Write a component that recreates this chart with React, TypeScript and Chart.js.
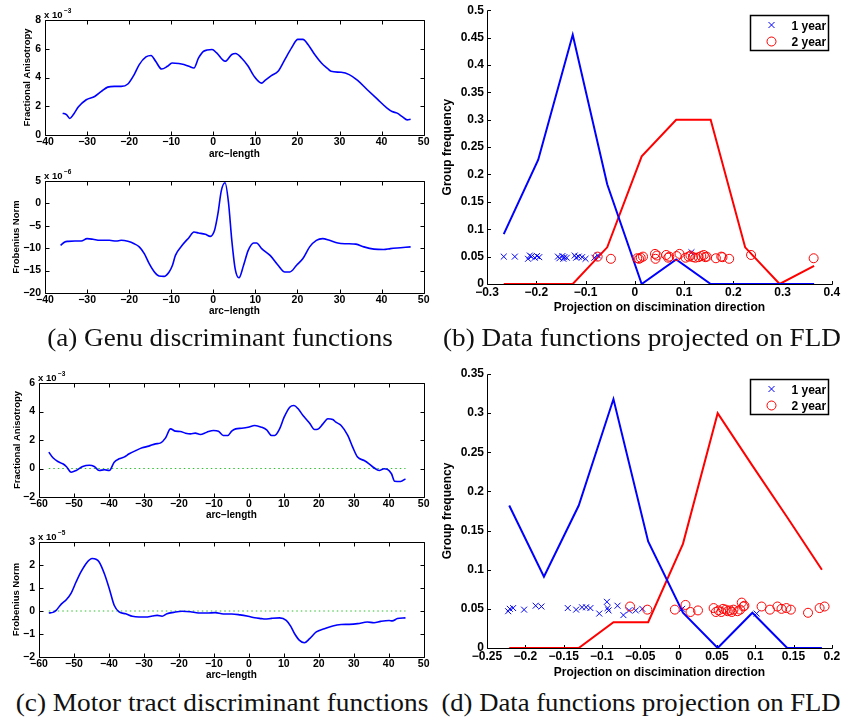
import React, { useEffect, useLayoutEffect, useRef } from 'react';
import { Chart, registerables } from 'chart.js';

Chart.register(...registerables);

// ---------- (a) Genu discriminant functions ----------
const genuFaArc = [-35.8, -34.9, -34.1, -33.2, -32.1, -30.2, -28.2, -26.6, -25.1, -23.5, -21.9, -20.3, -18.8, -17.6, -16.0, -14.8, -13.7, -12.3, -10.9, -9.8, -8.2, -7.0, -5.8, -4.6, -3.5, -2.3, -0.3, 0.8, 2.8, 4.4, 5.3, 6.7, 8.3, 9.6, 11.5, 12.3, 13.8, 15.4, 17.0, 18.6, 20.1, 21.3, 22.5, 24.1, 25.7, 27.2, 28.0, 30.4, 32.3, 34.3, 36.6, 39.0, 41.3, 42.5, 43.7, 44.9, 46.1, 46.9];
const genuFaVal = [1.52, 1.42, 1.15, 1.45, 1.94, 2.45, 2.68, 3.03, 3.33, 3.38, 3.38, 3.55, 4.20, 4.90, 5.43, 5.53, 5.13, 4.59, 4.78, 5.01, 4.97, 4.90, 4.78, 4.66, 5.36, 5.83, 5.95, 5.71, 5.13, 5.60, 5.67, 5.36, 4.78, 4.13, 3.61, 3.80, 4.13, 4.43, 5.25, 6.06, 6.65, 6.65, 6.30, 5.60, 5.01, 4.62, 4.43, 4.36, 4.20, 3.80, 3.15, 2.49, 1.87, 1.63, 1.52, 1.28, 1.05, 1.10];

const genuFnArc = [-36.3, -35.3, -34.5, -32.9, -31.4, -30.0, -28.6, -27.0, -24.7, -23.1, -21.9, -20.3, -18.8, -17.6, -16.4, -15.2, -14.0, -12.9, -11.7, -10.5, -9.7, -9.0, -7.4, -5.8, -4.6, -3.5, -1.9, -0.7, 0.3, 1.1, 1.9, 2.8, 3.6, 4.4, 5.2, 6.1, 7.2, 8.3, 9.6, 10.3, 11.5, 13.5, 15.4, 17.0, 18.2, 19.8, 21.3, 22.9, 24.5, 26.0, 27.6, 29.6, 31.5, 33.9, 35.8, 38.2, 40.5, 42.1, 44.5, 46.9];
const genuFnVal = [-9.36, -8.6, -8.47, -8.4, -8.4, -7.87, -8.0, -8.24, -8.24, -8.4, -8.24, -8.47, -9.0, -9.7, -11.2, -13.5, -15.3, -16.2, -16.3, -15.3, -13.8, -11.6, -9.36, -7.65, -6.4, -6.6, -6.9, -7.35, -6.0, -2.3, 2.8, 4.6, 0.3, -8.24, -14.6, -16.6, -13.8, -10.5, -8.84, -8.84, -10.1, -11.6, -13.8, -15.3, -15.3, -13.8, -12.3, -9.7, -8.24, -7.87, -8.24, -8.84, -9.0, -9.1, -9.7, -10.2, -10.3, -10.1, -9.9, -9.7];

// ---------- (b) Genu projections ----------
const bBins = [-0.266, -0.196, -0.126, -0.056, 0.014, 0.084, 0.154, 0.224, 0.294, 0.364];
const bFreq1 = [0.091, 0.227, 0.455, 0.182, 0, 0.045, 0, 0, 0, 0];
const bFreq2 = [0, 0, 0, 0.067, 0.233, 0.3, 0.3, 0.067, 0, 0.033];
const bProj1 = [-0.266, -0.2435, -0.2167, -0.213, -0.21, -0.203, -0.1985, -0.194, -0.156, -0.153, -0.147, -0.145, -0.143, -0.138, -0.122, -0.119, -0.114, -0.107, -0.1, -0.082, -0.075, 0.115];
const bJit1 = [0.05, 0.05, 0.046, 0.052, 0.05, 0.048, 0.051, 0.049, 0.05, 0.047, 0.051, 0.046, 0.049, 0.048, 0.052, 0.048, 0.05, 0.049, 0.046, 0.048, 0.052, 0.058];
const bProj2 = [-0.0754, -0.0485, 0.005, 0.0087, 0.012, 0.0167, 0.041, 0.042, 0.045, 0.0637, 0.0678, 0.07, 0.085, 0.0907, 0.103, 0.1095, 0.113, 0.118, 0.123, 0.1297, 0.135, 0.14, 0.143, 0.146, 0.1646, 0.1755, 0.178, 0.1916, 0.236, 0.363];
const bJit2 = [0.05, 0.046, 0.047, 0.046, 0.048, 0.05, 0.055, 0.046, 0.052, 0.053, 0.048, 0.05, 0.051, 0.055, 0.048, 0.05, 0.052, 0.049, 0.048, 0.049, 0.051, 0.053, 0.049, 0.05, 0.047, 0.05, 0.049, 0.046, 0.053, 0.047];

// ---------- (c) Motor tract discriminant functions ----------
const motorFaArc = [-57.2, -56.0, -54.6, -53.2, -52.2, -50.8, -49.4, -47.5, -45.6, -44.2, -42.8, -41.3, -39.9, -38.5, -37.1, -35.7, -34.2, -32.3, -30.5, -28.6, -26.7, -25.2, -23.8, -22.4, -21.0, -19.6, -18.1, -16.7, -15.3, -13.9, -12.0, -10.1, -8.7, -7.3, -6.0, -4.9, -3.75, -2.0, -0.2, 1.7, 3.6, 5.1, 6.5, 7.4, 8.8, 10.1, 11.7, 12.9, 14.1, 15.5, 17.4, 18.8, 19.7, 21.2, 22.6, 24.0, 24.9, 26.4, 28.3, 29.7, 31.1, 33.0, 34.4, 35.8, 37.3, 38.7, 39.6, 40.8, 41.7, 43.4, 44.8];
const motorFaVal = [1.15, 0.75, 0.49, 0.33, 0.14, -0.26, -0.14, 0.14, 0.23, 0.14, -0.14, -0.09, -0.14, 0.44, 0.68, 0.8, 1.03, 1.26, 1.45, 1.57, 1.73, 1.8, 2.15, 2.78, 2.62, 2.6, 2.48, 2.43, 2.48, 2.39, 2.55, 2.67, 2.62, 2.32, 2.32, 2.62, 2.78, 2.83, 2.9, 3.02, 2.9, 2.71, 2.32, 2.32, 2.78, 3.6, 4.3, 4.42, 4.19, 3.72, 3.18, 2.74, 2.76, 3.13, 3.49, 3.44, 3.25, 3.02, 2.32, 1.5, 0.8, 0.56, 0.33, 0.05, -0.14, -0.02, -0.05, -0.37, -0.89, -0.91, -0.73];

const motorFnArc = [-57.2, -56.0, -55.1, -53.7, -52.2, -50.8, -49.4, -48.0, -46.4, -44.8, -43.7, -42.8, -41.3, -39.9, -38.5, -37.1, -35.2, -33.3, -31.4, -29.5, -27.6, -26.2, -24.8, -23.4, -21.5, -19.1, -16.7, -14.4, -12.0, -9.6, -7.3, -4.9, -2.5, -0.2, 1.7, 3.6, 4.6, 6.5, 8.8, 10.7, 12.0, 13.1, 14.5, 15.9, 17.4, 19.3, 21.6, 24.0, 26.4, 28.7, 31.1, 33.9, 35.8, 37.7, 40.1, 41.0, 42.5, 44.8];
const motorFnVal = [-0.09, -0.06, 0.03, 0.29, 0.49, 0.78, 1.26, 1.7, 2.09, 2.28, 2.25, 2.13, 1.62, 0.97, 0.25, -0.04, -0.12, -0.23, -0.26, -0.26, -0.22, -0.19, -0.23, -0.12, -0.06, -0.01, -0.03, -0.09, -0.09, -0.07, -0.13, -0.13, -0.17, -0.23, -0.29, -0.33, -0.35, -0.32, -0.3, -0.41, -0.67, -0.99, -1.28, -1.38, -1.2, -0.91, -0.77, -0.65, -0.59, -0.58, -0.55, -0.48, -0.51, -0.45, -0.41, -0.43, -0.33, -0.3];
const motorZeroArc = [-57.2, 44.8];
const motorZeroVal = [0, 0];

// ---------- (d) Motor projections ----------
const dBins = [-0.221, -0.1757, -0.1303, -0.085, -0.0397, 0.0057, 0.051, 0.0963, 0.1417, 0.187];
const dFreq1 = [0.182, 0.091, 0.182, 0.318, 0.136, 0.045, 0, 0.045, 0, 0];
const dFreq2 = [0, 0, 0, 0.033, 0.033, 0.133, 0.3, 0.233, 0.167, 0.1];
const dProj1 = [-0.2224, -0.2202, -0.2159, -0.2016, -0.1865, -0.179, -0.1446, -0.1337, -0.126, -0.1207, -0.1151, -0.1035, -0.0935, -0.0926, -0.0914, -0.0797, -0.072, -0.0646, -0.0559, -0.0473, 0.0046, 0.1018];
const dJit1 = [0.047, 0.05, 0.051, 0.049, 0.054, 0.053, 0.051, 0.049, 0.052, 0.052, 0.051, 0.044, 0.059, 0.051, 0.048, 0.054, 0.042, 0.048, 0.048, 0.05, 0.05, 0.044];
const dProj2 = [-0.0633, -0.0408, -0.0049, 0.009, 0.0155, 0.0253, 0.0457, 0.0487, 0.0522, 0.0557, 0.058, 0.0617, 0.064, 0.0673, 0.0694, 0.0716, 0.077, 0.0803, 0.0824, 0.0846, 0.0859, 0.1083, 0.1192, 0.129, 0.1343, 0.1407, 0.1465, 0.1689, 0.184, 0.1905];
const dJit2 = [0.053, 0.049, 0.049, 0.055, 0.046, 0.048, 0.051, 0.046, 0.048, 0.046, 0.05, 0.049, 0.047, 0.048, 0.046, 0.049, 0.047, 0.049, 0.058, 0.053, 0.054, 0.053, 0.049, 0.053, 0.05, 0.051, 0.049, 0.045, 0.051, 0.053];

const legendLabels = ['1 year', '2 year'];

// ---------- styling helpers ----------
const SANS = '"Liberation Sans", Arial, Helvetica, sans-serif';
const SERIF = '"Liberation Serif", "Times New Roman", serif';
const BLUE = '#0000ff';
const RED = '#ff0000';
const GREEN = '#2fbf2f';

const fmt = (v: number) => String(Math.round(v * 1000) / 1000).replace('-', '\u2212');
const pts = (xs: number[], ys: number[]) => xs.map((x, i) => ({ x, y: ys[i] }));
const hp = (v: number) => Math.round(v) + 0.5;

const matlabPlugin = {
  id: 'matlab',
  beforeDatasetsDraw(chart: any, _args: any, opts: any) {
    const { ctx, chartArea: a } = chart;
    const xs = chart.scales.x;
    const ys = chart.scales.y;
    const tl = opts.tickLen ?? 4;
    const l = hp(a.left), r = hp(a.right), t = hp(a.top), b = hp(a.bottom);
    ctx.save();
    ctx.strokeStyle = '#000';
    ctx.lineWidth = 1;
    ctx.beginPath();
    if (opts.box) {
      ctx.rect(l, t, r - l, b - t);
    } else {
      ctx.moveTo(l, t);
      ctx.lineTo(l, b);
      ctx.lineTo(r, b);
    }
    for (const tk of xs.ticks) {
      const p = hp(xs.getPixelForValue(tk.value));
      ctx.moveTo(p, b);
      ctx.lineTo(p, b - tl);
      if (opts.box) {
        ctx.moveTo(p, t);
        ctx.lineTo(p, t + tl);
      }
    }
    for (const tk of ys.ticks) {
      const p = hp(ys.getPixelForValue(tk.value));
      ctx.moveTo(l, p);
      ctx.lineTo(l + tl, p);
      if (opts.box) {
        ctx.moveTo(r, p);
        ctx.lineTo(r - tl, p);
      }
    }
    ctx.stroke();
    ctx.restore();
  },
  afterDraw(chart: any, _args: any, opts: any) {
    const { ctx, chartArea: a } = chart;
    ctx.save();
    if (opts.exponent) {
      ctx.fillStyle = '#000';
      ctx.textAlign = 'left';
      ctx.textBaseline = 'alphabetic';
      ctx.font = `bold 9.5px ${SANS}`;
      const base = 'x 10';
      ctx.fillText(base, a.left - 1, a.top - 2);
      const w = ctx.measureText(base).width;
      ctx.font = `bold 6.5px ${SANS}`;
      ctx.fillText(opts.exponent, a.left + w + 0.5, a.top - 7);
    }

    if (opts.legend) {
      const bw = 78, bh = 35;
      const bx = Math.round(a.right - 4 - bw) + 0.5;
      const by = Math.round(a.top + 5) + 0.5;
      ctx.fillStyle = '#fff';
      ctx.fillRect(bx, by, bw, bh);
      ctx.lineWidth = 1.5;
      ctx.strokeStyle = '#000';
      ctx.strokeRect(bx, by, bw, bh);
      opts.legend.forEach((it: any, i: number) => {
        const cy = by + 9.5 + i * 16.5;
        const cx = bx + 21;
        ctx.lineWidth = 1;
        ctx.strokeStyle = it.color;
        ctx.beginPath();
        if (it.style === 'cross') {
          ctx.moveTo(cx - 3, cy - 3);
          ctx.lineTo(cx + 3, cy + 3);
          ctx.moveTo(cx + 3, cy - 3);
          ctx.lineTo(cx - 3, cy + 3);
        } else {
          ctx.arc(cx, cy, 4.5, 0, Math.PI * 2);
        }
        ctx.stroke();
        ctx.fillStyle = '#000';
        ctx.font = `bold 12px ${SANS}`;
        ctx.textAlign = 'left';
        ctx.textBaseline = 'middle';
        ctx.fillText(it.label, bx + 41, cy + 1.5);
      });
    }
    ctx.restore();
  },
};

type Frame = { x0: number; y0: number; w: number; h: number };
type Box = { L: number; T: number; W: number; H: number };
type Spec = {
  frame: Frame;
  box: Box;
  xMin: number; xMax: number; xStep: number; xTitle: string; xTitleY: number;
  yMin: number; yMax: number; yStep: number; yTitle: string; yTitleX: number;
  tickSize: number; xTitleSize: number; yTitleSize: number;
  tickPadX: number; tickPadY: number;
  datasets: any[];
  matlab: any;
};

function buildConfig(s: Spec): any {
  const padTop = s.box.T - s.frame.y0;
  const padRight = s.frame.x0 + s.frame.w - (s.box.L + s.box.W);
  const yW = s.box.L - s.frame.x0;
  const xH = s.frame.y0 + s.frame.h - (s.box.T + s.box.H);
  const xlh = s.xTitleSize * 1.2;
  const ylh = s.yTitleSize * 1.2;
  const xTitlePad = s.frame.y0 + s.frame.h - xlh / 2 - s.xTitleY;
  const yTitlePad = s.yTitleX - s.frame.x0 - ylh / 2;
  const tickFont = { family: SANS, size: s.tickSize, weight: 'bold', lineHeight: 1.2 };
  return {
    type: 'scatter',
    data: { datasets: s.datasets },
    options: {
      responsive: false,
      animation: false,
      devicePixelRatio: 1,
      events: [],
      layout: { padding: { top: padTop, right: padRight, left: 0, bottom: 0 }, autoPadding: false },
      plugins: { legend: { display: false }, tooltip: { enabled: false }, matlab: s.matlab },
      scales: {
        x: {
          type: 'linear',
          position: 'bottom',
          min: s.xMin,
          max: s.xMax,
          afterFit: (sc: any) => { sc.height = xH; },
          grid: { display: false, drawTicks: false },
          border: { display: false },
          ticks: {
            stepSize: s.xStep, autoSkip: false, maxRotation: 0, minRotation: 0,
            padding: s.tickPadX, color: '#000', font: tickFont,
            callback: (v: any) => fmt(Number(v)),
          },
          title: {
            display: true, text: s.xTitle, color: '#000',
            font: { family: SANS, size: s.xTitleSize, weight: 'bold', lineHeight: 1.2 },
            padding: { top: 0, bottom: xTitlePad },
          },
        },
        y: {
          type: 'linear',
          position: 'left',
          min: s.yMin,
          max: s.yMax,
          afterFit: (sc: any) => { sc.width = yW; },
          grid: { display: false, drawTicks: false },
          border: { display: false },
          ticks: {
            stepSize: s.yStep, autoSkip: false,
            padding: s.tickPadY, color: '#000', font: tickFont,
            callback: (v: any) => fmt(Number(v)),
          },
          title: {
            display: true, text: s.yTitle, color: '#000',
            font: { family: SANS, size: s.yTitleSize, weight: 'bold', lineHeight: 1.2 },
            padding: { top: yTitlePad, bottom: 0 },
          },
        },
      },
    },
    plugins: [matlabPlugin],
  };
}

const curve = (xs: number[], ys: number[], color: string, width = 1.6) => ({
  data: pts(xs, ys), showLine: true, borderColor: color, borderWidth: width,
  pointRadius: 0, cubicInterpolationMode: 'monotone', fill: false,
});
const poly = (xs: number[], ys: number[], color: string) => ({
  data: pts(xs, ys), showLine: true, borderColor: color, borderWidth: 2,
  pointRadius: 0, tension: 0, fill: false,
});
const crosses = (xs: number[], ys: number[]) => ({
  data: pts(xs, ys), showLine: false, pointStyle: 'crossRot', pointRadius: 4.2,
  borderColor: BLUE, backgroundColor: BLUE, pointBorderWidth: 1, borderWidth: 1,
});
const circles = (xs: number[], ys: number[]) => ({
  data: pts(xs, ys), showLine: false, pointStyle: 'circle', pointRadius: 4.5,
  borderColor: RED, backgroundColor: 'rgba(0,0,0,0)', pointBorderWidth: 1, borderWidth: 1,
});
const zeroLine = (xs: number[], ys: number[]) => ({
  data: pts(xs, ys), showLine: true, borderColor: GREEN, borderWidth: 1,
  borderDash: [1.5, 3], pointRadius: 0, fill: false,
});

const legendItems = [
  { label: legendLabels[0], color: BLUE, style: 'cross' },
  { label: legendLabels[1], color: RED, style: 'circle' },
];

const leftText = { tickSize: 10.5, xTitleSize: 10, yTitleSize: 9.5, tickPadX: 0.5, tickPadY: 4 };
const rightText = { tickSize: 12, xTitleSize: 12, yTitleSize: 12, tickPadX: 1.8, tickPadY: 3 };

const specs: Spec[] = [
  {
    frame: { x0: 0, y0: 0, w: 430, h: 165 }, box: { L: 45, T: 20, W: 382, H: 115 },
    xMin: -40, xMax: 50, xStep: 10, xTitle: 'arc\u2212length', xTitleY: 154,
    yMin: 0, yMax: 8, yStep: 2, yTitle: 'Fractional Anisotropy', yTitleX: 27,
    ...leftText,
    datasets: [curve(genuFaArc, genuFaVal, BLUE)],
    matlab: { box: true, tickLen: 4, exponent: '\u22123' },
  },
  {
    frame: { x0: 0, y0: 165, w: 430, h: 160 }, box: { L: 45, T: 181, W: 382, H: 112 },
    xMin: -40, xMax: 50, xStep: 10, xTitle: 'arc\u2212length', xTitleY: 311,
    yMin: -20, yMax: 5, yStep: 5, yTitle: 'Frobenius Norm', yTitleX: 16,
    ...leftText,
    datasets: [curve(genuFnArc, genuFnVal, BLUE)],
    matlab: { box: true, tickLen: 4, exponent: '\u22126' },
  },
  {
    frame: { x0: 430, y0: 0, w: 412, h: 320 }, box: { L: 487, T: 10, W: 347, H: 274 },
    xMin: -0.3, xMax: 0.4, xStep: 0.1, xTitle: 'Projection on discimination direction', xTitleY: 308,
    yMin: 0, yMax: 0.5, yStep: 0.05, yTitle: 'Group frequency', yTitleX: 448,
    ...rightText,
    datasets: [
      circles(bProj2, bJit2),
      crosses(bProj1, bJit1),
      poly(bBins, bFreq1, BLUE),
      poly(bBins, bFreq2, RED),
    ],
    matlab: { box: false, tickLen: 3.5, legend: legendItems },
  },
  {
    frame: { x0: 0, y0: 365, w: 430, h: 160 }, box: { L: 39, T: 383, W: 388, H: 114 },
    xMin: -60, xMax: 50, xStep: 10, xTitle: 'arc\u2212length', xTitleY: 515,
    yMin: -2, yMax: 6, yStep: 2, yTitle: 'Fractional Anisotropy', yTitleX: 17,
    ...leftText,
    datasets: [curve(motorFaArc, motorFaVal, BLUE), zeroLine(motorZeroArc, motorZeroVal)],
    matlab: { box: true, tickLen: 4, exponent: '\u22123' },
  },
  {
    frame: { x0: 0, y0: 525, w: 430, h: 155 }, box: { L: 39, T: 542, W: 388, H: 115 },
    xMin: -60, xMax: 50, xStep: 10, xTitle: 'arc\u2212length', xTitleY: 675.5,
    yMin: -2, yMax: 3, yStep: 1, yTitle: 'Frobenius Norm', yTitleX: 16,
    ...leftText,
    datasets: [curve(motorFnArc, motorFnVal, BLUE), zeroLine(motorZeroArc, motorZeroVal)],
    matlab: { box: true, tickLen: 4, exponent: '\u22125' },
  },
  {
    frame: { x0: 430, y0: 360, w: 412, h: 320 }, box: { L: 487, T: 374, W: 347, H: 274 },
    xMin: -0.25, xMax: 0.2, xStep: 0.05, xTitle: 'Projection on discimination direction', xTitleY: 673,
    yMin: 0, yMax: 0.35, yStep: 0.05, yTitle: 'Group frequency', yTitleX: 448,
    ...rightText,
    datasets: [
      circles(dProj2, dJit2),
      crosses(dProj1, dJit1),
      poly(dBins, dFreq1, BLUE),
      poly(dBins, dFreq2, RED),
    ],
    matlab: { box: false, tickLen: 3.5, legend: legendItems },
  },
];

const captions = [
  { text: '(a) Genu discriminant functions', cx: 220, cy: 337, width: 346 },
  { text: '(b) Data functions projected on FLD', cx: 642, cy: 337, width: 398 },
  { text: '(c) Motor tract discriminant functions', cx: 221.5, cy: 702, width: 413 },
  { text: '(d) Data functions projection on FLD', cx: 640.5, cy: 702, width: 399 },
];

function Plot({ spec }: { spec: Spec }) {
  const ref = useRef<HTMLCanvasElement>(null);
  useEffect(() => {
    const chart = new Chart(ref.current as HTMLCanvasElement, buildConfig(spec));
    return () => chart.destroy();
  }, [spec]);
  const f = spec.frame;
  return (
    <div style={{ position: 'absolute', left: f.x0, top: f.y0, width: f.w, height: f.h }}>
      <canvas ref={ref} width={f.w} height={f.h} style={{ width: f.w, height: f.h, display: 'block' }} />
    </div>
  );
}

function Caption({ text, cx, cy, width }: { text: string; cx: number; cy: number; width: number }) {
  const ref = useRef<HTMLDivElement>(null);
  useLayoutEffect(() => {
    const el = ref.current;
    if (!el) return;
    const w = el.offsetWidth;
    const s = w > 0 ? width / w : 1;
    el.style.transform = `translate(-50%, -50%) scaleX(${s})`;
  }, [width]);
  return (
    <div
      ref={ref}
      style={{
        position: 'absolute', left: cx, top: cy, whiteSpace: 'nowrap',
        fontFamily: SERIF, fontSize: 25, lineHeight: '25px', color: '#111',
        transform: 'translate(-50%, -50%)',
      }}
    >
      {text}
    </div>
  );
}

export default function App() {
  return (
    <div style={{ position: 'fixed', left: 0, top: 0, width: 842, height: 719, background: '#fff', overflow: 'hidden' }}>
      {specs.map((s, i) => <Plot key={i} spec={s} />)}
      {captions.map((c, i) => <Caption key={i} {...c} />)}
    </div>
  );
}
